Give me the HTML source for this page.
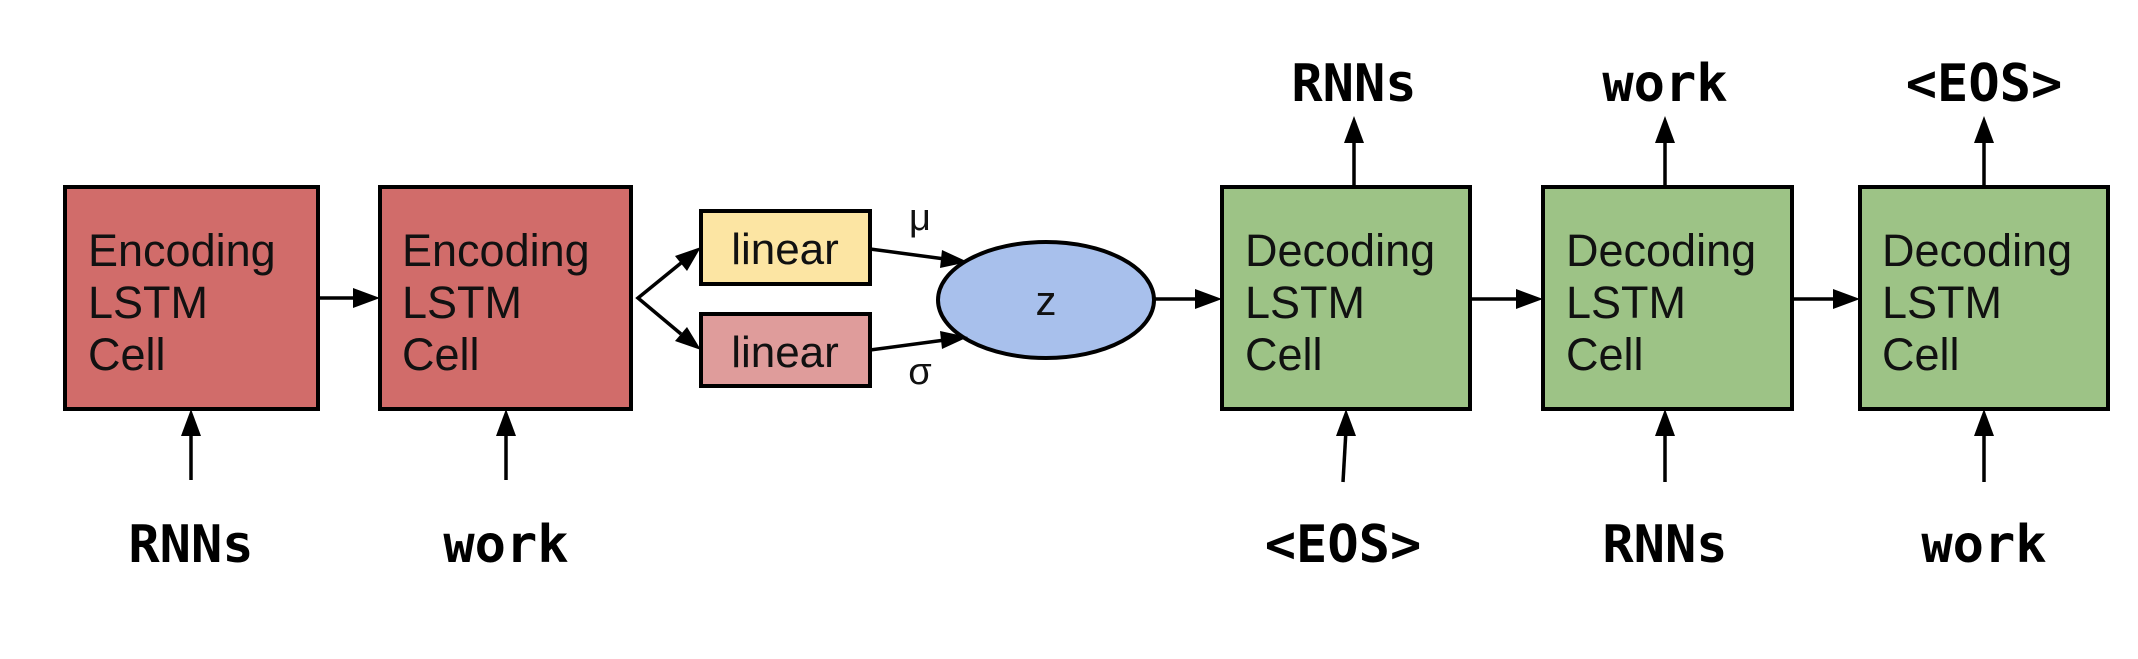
<!DOCTYPE html>
<html><head><style>
html,body{margin:0;padding:0;background:#fff;}
</style></head><body>
<svg width="2138" height="654" viewBox="0 0 2138 654" xmlns="http://www.w3.org/2000/svg">
<g stroke="#000" stroke-width="4">
<rect x="65" y="187" width="253" height="222" fill="#d16c6a"/>
<rect x="380" y="187" width="251" height="222" fill="#d16c6a"/>
<rect x="701" y="211" width="169" height="73" fill="#fce5a3"/>
<rect x="701" y="314" width="169" height="72" fill="#df9c9b"/>
<ellipse cx="1046" cy="300" rx="108" ry="58" fill="#a8c0ec"/>
<rect x="1222" y="187" width="248" height="222" fill="#9dc386"/>
<rect x="1543" y="187" width="249" height="222" fill="#9dc386"/>
<rect x="1860" y="187" width="248" height="222" fill="#9dc386"/>
</g>
<g stroke="#000" stroke-width="3.5" fill="none">
<line x1="318" y1="298" x2="355" y2="298"/>
<polyline points="681,263 638,298 681,334" />
<line x1="870" y1="249" x2="945" y2="259"/>
<line x1="870" y1="350" x2="945" y2="340"/>
<line x1="1154" y1="299" x2="1196" y2="299"/>
<line x1="1470" y1="299" x2="1517" y2="299"/>
<line x1="1792" y1="299" x2="1834" y2="299"/>
<line x1="191" y1="480" x2="191" y2="430"/>
<line x1="506" y1="480" x2="506" y2="430"/>
<line x1="1343" y1="482" x2="1346" y2="430"/>
<line x1="1665" y1="482" x2="1665" y2="430"/>
<line x1="1984" y1="482" x2="1984" y2="430"/>
<line x1="1354" y1="187" x2="1354" y2="138"/>
<line x1="1665" y1="187" x2="1665" y2="138"/>
<line x1="1984" y1="187" x2="1984" y2="138"/>
</g>
<g fill="#000">
<polygon points="380,298 353,288 353,308"/>
<polygon points="701,247 675,256 687,271"/>
<polygon points="701,350 687,327 675,341"/>
<polygon points="968,262 942,250 940,268"/>
<polygon points="968,337 940,331 942,349"/>
<polygon points="1222,299 1195,289 1195,309"/>
<polygon points="1543,299 1516,289 1516,309"/>
<polygon points="1860,299 1833,289 1833,309"/>
<polygon points="191,409 181,436 201,436"/>
<polygon points="506,409 496,436 516,436"/>
<polygon points="1346,409 1336,436 1356,436"/>
<polygon points="1665,409 1655,436 1675,436"/>
<polygon points="1984,409 1974,436 1994,436"/>
<polygon points="1354,116 1344,143 1364,143"/>
<polygon points="1665,116 1655,143 1675,143"/>
<polygon points="1984,116 1974,143 1994,143"/>
</g>
<g font-family="Liberation Sans, sans-serif" font-size="45" fill="#111">
<text x="88" y="266">Encoding</text><text x="88" y="318">LSTM</text><text x="88" y="370">Cell</text>
<text x="402" y="266">Encoding</text><text x="402" y="318">LSTM</text><text x="402" y="370">Cell</text>
<text x="1245" y="266">Decoding</text><text x="1245" y="318">LSTM</text><text x="1245" y="370">Cell</text>
<text x="1566" y="266">Decoding</text><text x="1566" y="318">LSTM</text><text x="1566" y="370">Cell</text>
<text x="1882" y="266">Decoding</text><text x="1882" y="318">LSTM</text><text x="1882" y="370">Cell</text>
<text x="785" y="264" font-size="44" text-anchor="middle">linear</text>
<text x="785" y="367" font-size="44" text-anchor="middle">linear</text>
<text x="1046" y="315" font-size="42" text-anchor="middle">z</text>
<text x="920" y="230" font-size="38" text-anchor="middle">μ</text>
<text x="920" y="384" font-size="38" text-anchor="middle">σ</text>
</g>
<g font-family="DejaVu Sans Mono, Liberation Mono, monospace" font-weight="bold" font-size="52" fill="#000" text-anchor="middle">
<text x="191" y="562">RNNs</text>
<text x="506" y="562">work</text>
<text x="1343" y="562">&lt;EOS&gt;</text>
<text x="1665" y="562">RNNs</text>
<text x="1984" y="562">work</text>
<text x="1354" y="101">RNNs</text>
<text x="1665" y="101">work</text>
<text x="1984" y="101">&lt;EOS&gt;</text>
</g>
</svg>
</body></html>
